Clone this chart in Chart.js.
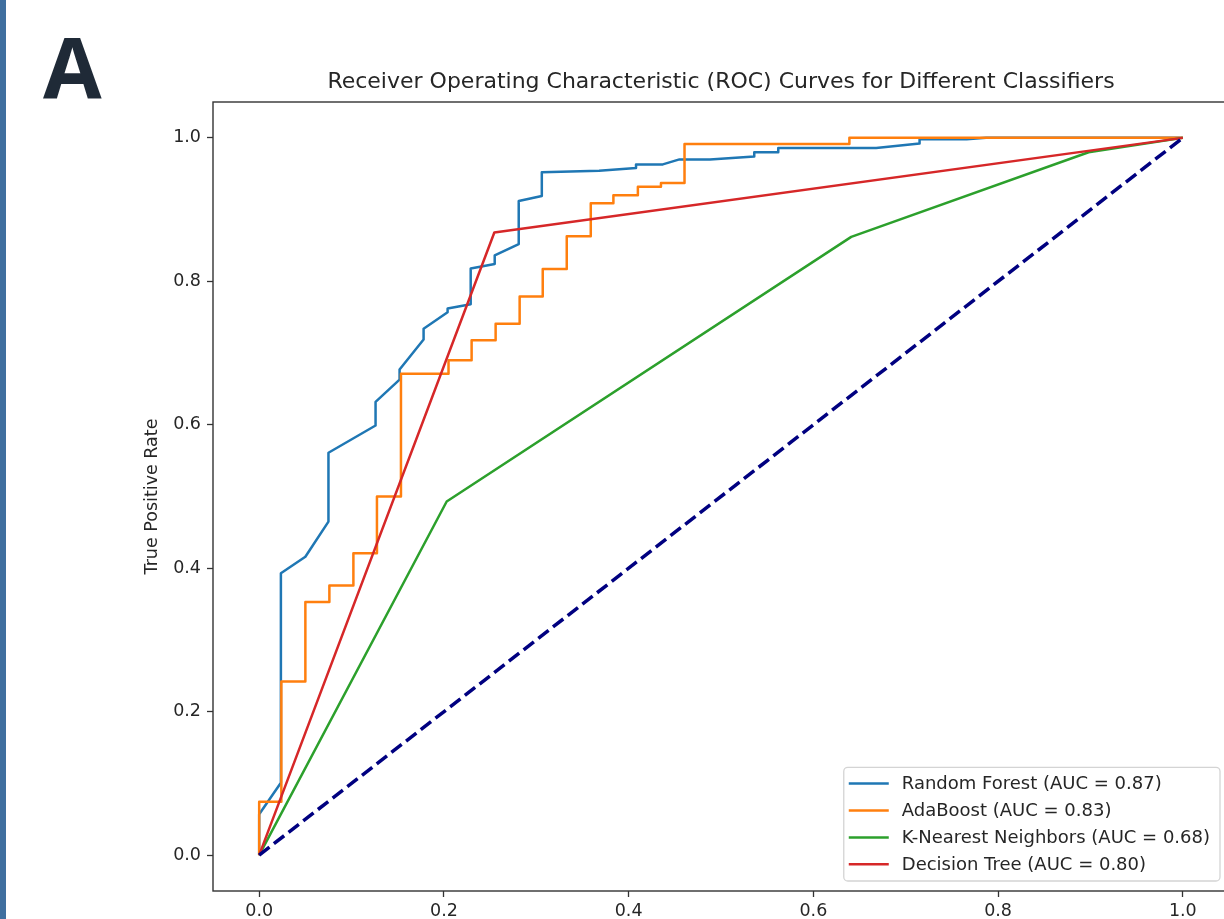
<!DOCTYPE html>
<html><head><meta charset="utf-8">
<script src="https://cdn.jsdelivr.net/npm/chart.js@4.4.0/dist/chart.umd.min.js"></script>
<style>
html,body{margin:0;padding:0;background:#fff;overflow:hidden;width:1224px;height:919px;}
#wrap{position:absolute;left:0;top:0;width:1240px;height:919px;}
#bar{position:absolute;left:0;top:0;width:6px;height:919px;background:#3f6f9f;}
#lbl{position:absolute;left:43px;top:7px;font-family:"Open Sans";font-weight:700;font-size:85px;line-height:normal;color:#1f2a37;}
</style></head><body>
<div id="wrap"><canvas id="c" width="1240" height="919"></canvas></div>
<div id="bar"></div>
<div id="lbl">A</div>
<script>
const TITLE = 'Receiver Operating Characteristic (ROC) Curves for Different Classifiers';
const Y_TITLE = 'True Positive Rate';
const xTickValues = [0, 0.2, 0.4, 0.6, 0.8, 1.0];
const yTickValues = [0, 0.2, 0.4, 0.6, 0.8, 1.0];
const xTickLabels = ['0.0', '0.2', '0.4', '0.6', '0.8', '1.0'];
const yTickLabels = ['0.0', '0.2', '0.4', '0.6', '0.8', '1.0'];

const seriesNames = ['Random Forest (AUC = 0.87)', 'AdaBoost (AUC = 0.83)', 'K-Nearest Neighbors (AUC = 0.68)', 'Decision Tree (AUC = 0.80)'];
const seriesColors = ['#1f77b4', '#ff7f0e', '#2ca02c', '#d62728'];

const rfFpr = [0, 0, 0.0235, 0.0235, 0.05, 0.075, 0.075, 0.126, 0.126, 0.152, 0.152, 0.178, 0.178, 0.204, 0.204, 0.229, 0.229, 0.255, 0.255, 0.281, 0.281, 0.306, 0.306, 0.368, 0.408, 0.408, 0.437, 0.455, 0.488, 0.536, 0.536, 0.562, 0.562, 0.668, 0.715, 0.715, 0.766, 0.787, 1.0];
const rfTpr = [0, 0.057, 0.101, 0.393, 0.416, 0.465, 0.561, 0.599, 0.632, 0.663, 0.677, 0.719, 0.734, 0.757, 0.762, 0.768, 0.818, 0.824, 0.836, 0.852, 0.912, 0.919, 0.952, 0.954, 0.958, 0.963, 0.963, 0.970, 0.970, 0.974, 0.980, 0.980, 0.986, 0.986, 0.992, 0.998, 0.998, 1.0, 1.0];

const abFpr = [0, 0, 0.024, 0.024, 0.05, 0.05, 0.076, 0.076, 0.102, 0.102, 0.1275, 0.1275, 0.1535, 0.1535, 0.205, 0.205, 0.23, 0.23, 0.256, 0.256, 0.282, 0.282, 0.307, 0.307, 0.333, 0.333, 0.359, 0.359, 0.3835, 0.3835, 0.410, 0.410, 0.435, 0.435, 0.4605, 0.4605, 0.639, 0.639, 1.0];
const abTpr = [0, 0.0745, 0.0745, 0.242, 0.242, 0.353, 0.353, 0.376, 0.376, 0.421, 0.421, 0.5, 0.5, 0.671, 0.671, 0.69, 0.69, 0.718, 0.718, 0.741, 0.741, 0.779, 0.779, 0.817, 0.817, 0.863, 0.863, 0.909, 0.909, 0.920, 0.920, 0.932, 0.932, 0.937, 0.937, 0.9916, 0.9916, 1.0, 1.0];

const knnFpr = [0, 0.203, 0.641, 0.898, 1.0];
const knnTpr = [0, 0.493, 0.862, 0.980, 1.0];

const dtFpr = [0, 0.2546, 1.0];
const dtTpr = [0, 0.868, 1.0];

const diagFpr = [0, 1];
const diagTpr = [0, 1];

const curves = [[rfFpr, rfTpr], [abFpr, abTpr], [knnFpr, knnTpr], [dtFpr, dtTpr]];
const toPts = (xs, ys) => xs.map((x, i) => ({x: x, y: ys[i]}));

const datasets = curves.map((c, i) => ({
  label: seriesNames[i],
  data: toPts(c[0], c[1]),
  borderColor: seriesColors[i],
  backgroundColor: seriesColors[i],
  borderWidth: 2.5,
  borderJoinStyle: 'round',
  pointRadius: 0,
  tension: 0,
  fill: false,
  inLegend: true,
  order: 10 - i
}));
datasets.push({
  label: 'diagonal',
  data: toPts(diagFpr, diagTpr),
  borderColor: '#000080',
  borderWidth: 3.5,
  borderDash: [13, 5.6],
  borderCapStyle: 'butt',
  pointRadius: 0,
  tension: 0,
  fill: false,
  inLegend: false,
  order: 1
});

const FONT = '"DejaVu Sans", sans-serif';
const TXT = '#262626';

const framePlugin = {
  id: 'frame',
  afterDatasetsDraw(chart) {
    const {ctx, chartArea: a} = chart;
    ctx.save();
    ctx.strokeStyle = '#333333';
    ctx.lineWidth = 1.4;
    ctx.strokeRect(a.left, a.top, a.right - a.left, a.bottom - a.top);
    ctx.restore();
  }
};

const legendPlugin = {
  id: 'roclegend',
  afterDraw(chart) {
    const {ctx, chartArea: a} = chart;
    const items = chart.data.datasets.filter(d => d.inLegend);
    const fs = 18;
    ctx.save();
    ctx.font = fs + 'px ' + FONT;
    const rowH = 26.9;
    const textW = Math.max(...items.map(d => ctx.measureText(d.label).width));
    const w = 58 + textW + 10;
    const h = (items.length - 1) * rowH + 33;
    const right = a.right - 9, bottom = a.bottom - 10;
    const left = right - w, top = bottom - h;
    ctx.beginPath();
    ctx.roundRect(left, top, w, h, 4);
    ctx.fillStyle = 'rgba(255,255,255,0.85)';
    ctx.fill();
    ctx.strokeStyle = '#d4d4d4';
    ctx.lineWidth = 1.3;
    ctx.stroke();
    items.forEach((d, i) => {
      const cy = top + 16.3 + i * rowH;
      ctx.beginPath();
      ctx.moveTo(left + 5, cy);
      ctx.lineTo(left + 45, cy);
      ctx.strokeStyle = d.borderColor;
      ctx.lineWidth = 2.5;
      ctx.stroke();
      ctx.fillStyle = TXT;
      ctx.textBaseline = 'middle';
      ctx.textAlign = 'left';
      ctx.fillText(d.label, left + 58, cy + 1);
    });
    ctx.restore();
  }
};

new Chart(document.getElementById('c'), {
  type: 'line',
  data: {datasets: datasets},
  plugins: [framePlugin, legendPlugin],
  options: {
    responsive: false,
    animation: false,
    events: [],
    layout: {padding: {left: 142, top: 69, right: 11, bottom: 0}},
    plugins: {
      legend: {display: false},
      tooltip: {enabled: false},
      title: {
        display: true, text: TITLE, fullSize: false, color: TXT,
        font: {family: FONT, size: 22, weight: 'normal'},
        padding: {top: 0, bottom: 6.6}
      }
    },
    scales: {
      x: {
        type: 'linear', min: -0.05, max: 1.05,
        afterFit(s) { s.height = 28; },
        afterBuildTicks(s) { s.ticks = xTickValues.map(v => ({value: v})); },
        ticks: {
          autoSkip: false, maxRotation: 0, padding: 4, color: TXT,
          font: {family: FONT, size: 17.5},
          callback: (v) => xTickLabels[xTickValues.indexOf(v)]
        },
        grid: {display: true, drawOnChartArea: false, drawTicks: true, tickLength: 6, tickWidth: 1.3, tickColor: '#333333'},
        border: {display: false}
      },
      y: {
        type: 'linear', min: -0.05, max: 1.05,
        afterFit(s) { s.width = 71; },
        afterBuildTicks(s) { s.ticks = yTickValues.map(v => ({value: v})); },
        ticks: {
          autoSkip: false, padding: 6, color: TXT,
          font: {family: FONT, size: 17.5},
          callback: (v) => yTickLabels[yTickValues.indexOf(v)]
        },
        grid: {display: true, drawOnChartArea: false, drawTicks: true, tickLength: 6, tickWidth: 1.3, tickColor: '#333333'},
        border: {display: false},
        title: {display: true, text: Y_TITLE, color: TXT, font: {family: FONT, size: 17.5}, padding: {top: 0, bottom: 0}}
      }
    }
  }
});
</script>
</body></html>
